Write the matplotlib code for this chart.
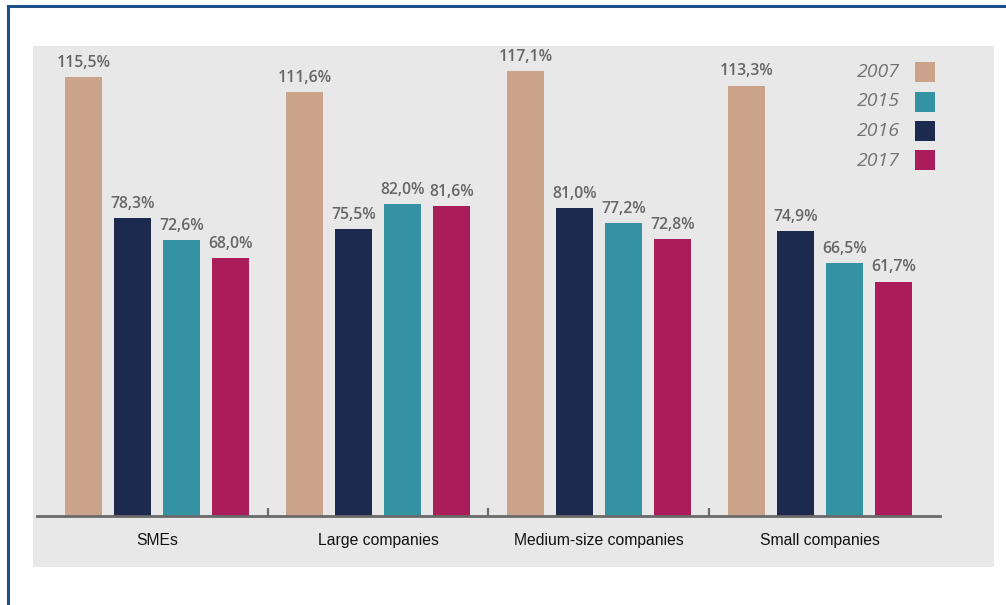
import numpy as np
import matplotlib.pyplot as plt
from matplotlib.patches import Rectangle

categories = ['SMEs', 'Large companies', 'Medium-size companies', 'Small companies']
# bars per group are drawn in this order: 2007, 2016, 2015, 2017
series_years = ['2007', '2016', '2015', '2017']
values = {
    '2007': [115.5, 111.6, 117.1, 113.3],
    '2016': [78.3, 75.5, 81.0, 74.9],
    '2015': [72.6, 82.0, 77.2, 66.5],
    '2017': [68.0, 81.6, 72.8, 61.7],
}
legend_years = ['2007', '2015', '2016', '2017']
colors = {'2007': '#caa38a', '2015': '#3592a3', '2016': '#1c2a4f', '2017': '#ab1d5a'}

W, H = 1006, 605
fig = plt.figure(figsize=(W / 100, H / 100), dpi=100)

# frame and grey panel (kept behind the axes)
fig.patches.append(Rectangle((8 / W, -0.1), 1.2, (H - 6) / H + 0.1, transform=fig.transFigure,
                             fill=False, edgecolor='#1d4f8a', linewidth=2.2, zorder=-10))
fig.patches.append(Rectangle((33 / W, (H - 567) / H), (994 - 33) / W, (567 - 46) / H,
                             transform=fig.transFigure, facecolor='#e8e8e8', edgecolor='none',
                             zorder=-10))

ax = fig.add_axes([37 / W, (H - 516) / H, (940 - 37) / W, (516 - 46) / H])
ax.patch.set_alpha(0)

x = np.arange(len(categories))
step = 49 / 221
width = 37 / 221
for i, yr in enumerate(series_years):
    pos = x + (i - 1.5) * step
    ax.bar(pos, values[yr], width, color=colors[yr])
    for xp, v in zip(pos, values[yr]):
        ax.text(xp, v + 1.6, f'{v:.1f}%'.replace('.', ','), ha='center', va='bottom',
                fontsize=11.3, fontweight='semibold', color='#666666', family='Open Sans')

ax.set_xlim(-0.543, 3.543)
ax.set_ylim(0, 123.7)
for s in ['top', 'right', 'left']:
    ax.spines[s].set_visible(False)
ax.spines['bottom'].set_color('#6a6a6a')
ax.spines['bottom'].set_linewidth(2)
ax.set_yticks([])
ax.set_xticks(x)
ax.set_xticklabels(categories, fontsize=11.3, family='Liberation Sans', color='#111111')
ax.tick_params(axis='x', which='major', length=0, pad=12)
ax.set_xticks([0.5, 1.5, 2.5], minor=True)
ax.tick_params(axis='x', which='minor', direction='in', length=6, width=1.6, color='#6a6a6a')

# legend drawn by hand: italic years with squares to the right
for k, yr in enumerate(legend_years):
    yc = 72 + k * 29.5
    fig.text(900 / W, 1 - yc / H, yr, ha='right', va='center', fontsize=14,
             style='italic', color='#737373', family='Open Sans')
    fig.patches.append(Rectangle((915 / W, 1 - (yc + 10) / H), 20 / W, 20 / H,
                                 transform=fig.transFigure, facecolor=colors[yr], edgecolor='none'))

fig.savefig('out.png', dpi=100)
